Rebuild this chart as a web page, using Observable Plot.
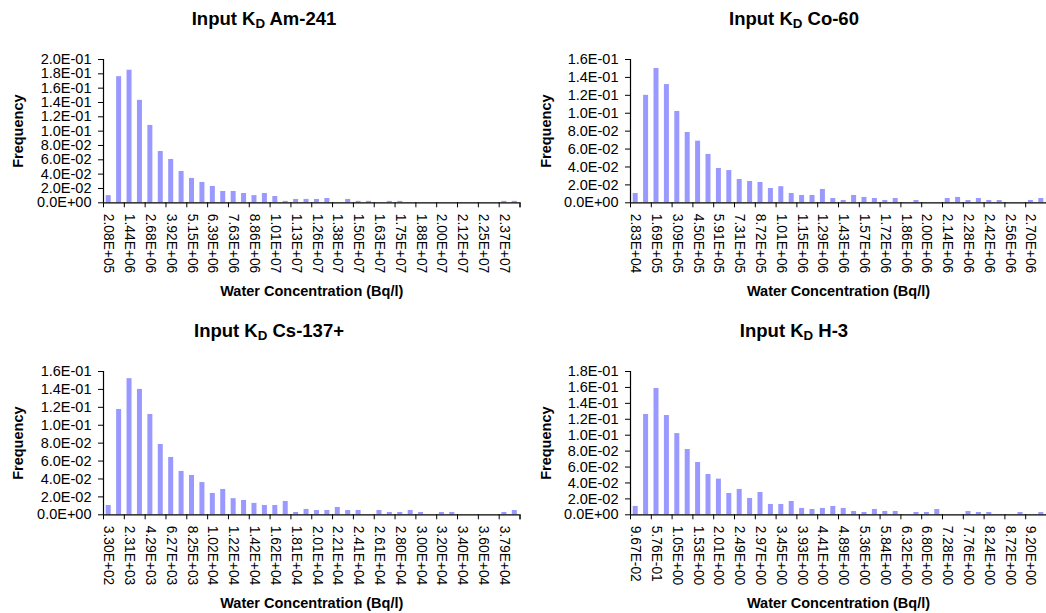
<!DOCTYPE html>
<html>
<head>
<meta charset="utf-8">
<script src="https://cdn.jsdelivr.net/npm/d3@7"></script>
<script src="https://cdn.jsdelivr.net/npm/@observablehq/plot@0.6"></script>
<style>
  body { margin: 0; background: #fff; }
  #root { position: relative; width: 1046px; height: 613px; overflow: hidden; font-family: Arial, "Liberation Sans", sans-serif; }
  .title { position: absolute; font-weight: bold; font-size: 18.5px; line-height: 22px; white-space: nowrap; transform: translateX(-50%); color: #000; }
  .title sub { font-size: 0.72em; vertical-align: -0.2em; line-height: 0; }
  .panel { position: absolute; }
  .panel svg { overflow: visible; }
  g[aria-label="y-axis label"] text, g[aria-label="x-axis label"] text { font-weight: bold; font-size: 14.5px; }
</style>
</head>
<body>
<div id="root"></div>
<script>
// ---- Data ----
const titles = ["Am-241", "Co-60", "Cs-137+", "H-3"];
const yLabel = "Frequency";
const xLabel = "Water Concentration (Bq/l)";

const ticksAm = ["2.08E+05","1.44E+06","2.68E+06","3.92E+06","5.15E+06","6.39E+06","7.63E+06","8.86E+06","1.01E+07","1.13E+07","1.26E+07","1.38E+07","1.50E+07","1.63E+07","1.75E+07","1.88E+07","2.00E+07","2.12E+07","2.25E+07","2.37E+07"];
const ticksCo = ["2.83E+04","1.69E+05","3.09E+05","4.50E+05","5.91E+05","7.31E+05","8.72E+05","1.01E+06","1.15E+06","1.29E+06","1.43E+06","1.57E+06","1.72E+06","1.86E+06","2.00E+06","2.14E+06","2.28E+06","2.42E+06","2.56E+06","2.70E+06"];
const ticksCs = ["3.30E+02","2.31E+03","4.29E+03","6.27E+03","8.25E+03","1.02E+04","1.22E+04","1.42E+04","1.62E+04","1.81E+04","2.01E+04","2.21E+04","2.41E+04","2.61E+04","2.80E+04","3.00E+04","3.20E+04","3.40E+04","3.60E+04","3.79E+04"];
const ticksH3 = ["9.67E-02","5.76E-01","1.05E+00","1.53E+00","2.01E+00","2.49E+00","2.97E+00","3.45E+00","3.93E+00","4.41E+00","4.89E+00","5.36E+00","5.84E+00","6.32E+00","6.80E+00","7.28E+00","7.76E+00","8.24E+00","8.72E+00","9.20E+00"];

const freqAm = [0.010,0.176,0.185,0.143,0.108,0.0716,0.0605,0.0437,0.034,0.0284,0.0228,0.0158,0.0158,0.013,0.010,0.013,0.0088,0.002,0.0047,0.0047,0.0047,0.006,0,0.0047,0.002,0.002,0,0.002,0.002,0,0,0,0,0,0,0,0,0,0.002,0.002];
const freqCo = [0.0104,0.120,0.150,0.132,0.102,0.0785,0.0688,0.054,0.0383,0.036,0.026,0.0238,0.0227,0.016,0.018,0.0104,0.0082,0.0082,0.0149,0.0048,0.0026,0.0082,0.006,0.0048,0.0026,0.0048,0,0.0026,0,0,0.0048,0.006,0.0026,0.0048,0.0026,0.0026,0,0,0.0026,0.0048];
const freqCs = [0.0104,0.1176,0.152,0.140,0.112,0.0785,0.064,0.0484,0.0439,0.036,0.0238,0.0283,0.018,0.016,0.0127,0.0104,0.0104,0.0149,0.0026,0.006,0.0048,0.0048,0.0082,0.0048,0.0048,0,0.0048,0.0026,0.0026,0.0048,0.0026,0,0.0026,0.0026,0,0,0,0,0.0026,0.0048];
const freqH3 = [0.0105,0.126,0.1587,0.1247,0.102,0.082,0.0657,0.0506,0.0448,0.0268,0.0318,0.0205,0.028,0.013,0.013,0.0167,0.008,0.0067,0.008,0.0105,0.008,0.0042,0.0029,0.0067,0.0042,0.0042,0,0.0029,0.0029,0.0067,0,0,0.0042,0.0029,0.0029,0,0,0.0029,0,0.0029];

const yMax = [0.20, 0.16, 0.16, 0.18];

// ---- Rendering ----
const root = document.getElementById("root");
const fmt = d => d.toExponential(1).toUpperCase().replace(/E([+-])(\d)$/, "E$10$2");

const panels = [
  {name: titles[0], freqs: freqAm, ticks: ticksAm, ymax: yMax[0], col: 0, row: 0, tcx: 264},
  {name: titles[1], freqs: freqCo, ticks: ticksCo, ymax: yMax[1], col: 1, row: 0, tcx: 794},
  {name: titles[2], freqs: freqCs, ticks: ticksCs, ymax: yMax[2], col: 0, row: 1, tcx: 269},
  {name: titles[3], freqs: freqH3, ticks: ticksH3, ymax: yMax[3], col: 1, row: 1, tcx: 794}
];

for (const p of panels) {
  const left = p.col === 0 ? 0 : 523;
  const top = p.row === 0 ? 40 : 352;
  const height = p.row === 0 ? 272 : 261;
  const mL = p.col === 0 ? 103 : 107;
  const mR = p.col === 0 ? 3.5 : 0;
  const mB = height - 162.3;
  const n = p.freqs.length;
  const data = p.freqs.map((f, i) => ({i, f}));
  const labelIdx = d3.range(0, n, 2);
  const bounds = d3.range(-0.5, n, 2).concat([n - 0.5]);
  const yTicks = d3.range(0, Math.round(p.ymax / 0.02) + 1).map(k => k * 0.02);

  const chart = Plot.plot({
    width: 523,
    height,
    marginLeft: mL,
    marginRight: mR,
    marginTop: 19,
    marginBottom: mB,
    style: {fontFamily: "Arial, 'Liberation Sans', sans-serif", fontSize: "14.5px", color: "#000", background: "transparent"},
    x: {domain: [-0.5, n - 0.5]},
    y: {domain: [0, p.ymax]},
    marks: [
      Plot.rect(data, {x1: d => d.i - 0.24, x2: d => d.i + 0.24, y1: 0, y2: "f", fill: "#9999FF"}),
      Plot.ruleY([0], {stroke: "#000", strokeWidth: 1.2}),
      Plot.ruleX([-0.5], {stroke: "#000", strokeWidth: 1.2}),
      Plot.axisY({ticks: yTicks, tickSize: 5, tickPadding: 7, tickFormat: fmt,
        label: yLabel, labelAnchor: "center", labelArrow: "none", labelOffset: p.col === 0 ? 91 : 90}),
      Plot.axisX({ticks: labelIdx, tickSize: 0, tickPadding: 11, tickRotate: 90, fontSize: 13.8,
        tickFormat: i => p.ticks[i / 2],
        label: xLabel, labelAnchor: "center", labelArrow: "none", labelOffset: 93}),
      Plot.axisX({ticks: bounds, tickSize: 5, tickFormat: () => "", label: null})
    ]
  });
  const div = document.createElement("div");
  div.className = "panel";
  div.style.left = left + "px";
  div.style.top = top + "px";
  div.appendChild(chart);
  root.appendChild(div);

  const t = document.createElement("div");
  t.className = "title";
  t.style.left = p.tcx + "px";
  t.style.top = (p.row === 0 ? 7.5 : 319.5) + "px";
  t.innerHTML = "Input K<sub>D</sub> " + p.name;
  root.appendChild(t);
}
</script>
</body>
</html>
